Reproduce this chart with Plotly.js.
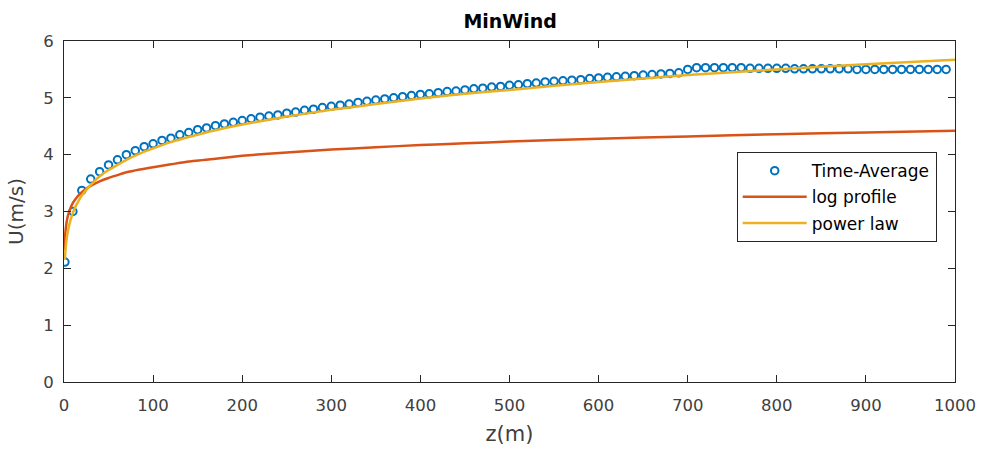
<!DOCTYPE html>
<html>
<head>
<meta charset="utf-8">
<script src="https://cdn.plot.ly/plotly-3.0.1.min.js"></script>
<style>html,body{margin:0;padding:0;background:#fff;}#chart{width:982px;height:451px;}</style>
</head>
<body>
<div id="chart"></div>
<script>
var zMeas = [1,10,20,30,40,50,60,70,80,90,
  100,110,120,130,140,150,160,170,180,190,
  200,210,220,230,240,250,260,270,280,290,
  300,310,320,330,340,350,360,370,380,390,
  400,410,420,430,440,450,460,470,480,490,
  500,510,520,530,540,550,560,570,580,590,
  600,610,620,630,640,650,660,670,680,690,
  700,710,720,730,740,750,760,770,780,790,
  800,810,820,830,840,850,860,870,880,890,
  900,910,920,930,940,950,960,970,980,990];
var uMeas = [2.11,3.00,3.37,3.57,3.70,3.82,3.91,4.00,4.07,4.14,
  4.19,4.25,4.29,4.35,4.39,4.44,4.47,4.51,4.54,4.57,
  4.60,4.63,4.66,4.68,4.70,4.73,4.75,4.78,4.80,4.83,
  4.85,4.87,4.89,4.92,4.94,4.96,4.98,5.00,5.02,5.04,
  5.06,5.07,5.09,5.11,5.12,5.14,5.16,5.17,5.19,5.20,
  5.22,5.23,5.25,5.26,5.28,5.29,5.30,5.31,5.32,5.34,
  5.35,5.36,5.37,5.38,5.39,5.40,5.41,5.42,5.43,5.44,
  5.50,5.53,5.53,5.53,5.53,5.53,5.53,5.52,5.52,5.52,
  5.52,5.52,5.51,5.51,5.51,5.51,5.51,5.51,5.51,5.50,
  5.50,5.50,5.50,5.50,5.50,5.50,5.50,5.50,5.50,5.50];

// Log profile curve
var zLog = [0.5,1,1.5,2,3,4,5,7,10,13,16,20,25,30,40,50,60,70,85,100,120,140,170,200,250,300,350,400,450,500,600,700,800,900,1000];
var uLog = [2.32,2.51,2.62,2.70,2.82,2.90,2.96,3.05,3.15,3.22,3.28,3.34,3.40,3.45,3.53,3.59,3.64,3.69,3.74,3.78,3.83,3.88,3.93,3.98,4.04,4.09,4.13,4.17,4.20,4.23,4.28,4.32,4.36,4.39,4.42];

// Power law curve
var zPow = [1,1.5,2,3,4,5,7,10,13,16,20,25,30,40,50,60,70,85,100,120,140,170,200,250,300,350,400,450,500,600,700,800,900,1000];
var uPow = [2.16,2.29,2.38,2.52,2.62,2.70,2.83,2.98,3.09,3.18,3.28,3.38,3.47,3.62,3.73,3.82,3.91,4.02,4.11,4.22,4.31,4.43,4.53,4.67,4.79,4.89,4.99,5.07,5.14,5.28,5.40,5.50,5.59,5.67];

var xTicks = [0,100,200,300,400,500,600,700,800,900,1000];
var yTicks = [0,1,2,3,4,5,6];

var FONT = 'DejaVu Sans, Verdana, sans-serif';
var AX = '#262626';
var TXT = '#404040';

var traces = [
  {x: zMeas, y: uMeas, type: 'scatter', mode: 'markers', name: 'Time-Average', legendgroup: 'a',
   marker: {symbol: 'circle-open', size: 7.5, color: '#0072BD', line: {width: 2, color: '#0072BD'}}},
  {x: zLog, y: uLog, type: 'scatter', mode: 'lines', name: 'log profile', legendgroup: 'b',
   line: {color: '#D95319', width: 2.5, shape: 'spline', smoothing: 0.5}},
  {x: zPow, y: uPow, type: 'scatter', mode: 'lines', name: 'power law', legendgroup: 'c',
   line: {color: '#EDB120', width: 2.5, shape: 'spline', smoothing: 0.5}}
];

var layout = {
  width: 982, height: 451,
  margin: {l: 64, r: 27, t: 41, b: 69, pad: 0},
  paper_bgcolor: '#fff', plot_bgcolor: '#fff',
  font: {family: FONT, size: 16, color: TXT},
  title: {text: '<b>MinWind</b>', x: 0.5195, xanchor: 'center', y: 0.953, yanchor: 'middle',
          font: {family: FONT, size: 19, color: '#000'}},
  showlegend: true,
  legend: {x: 0.755, xanchor: 'left', y: 0.674, yanchor: 'top',
           bordercolor: '#262626', borderwidth: 1, bgcolor: '#fff',
           font: {family: FONT, size: 17, color: '#000'},
           traceorder: 'grouped', tracegroupgap: 1, itemwidth: 64},
  xaxis: {range: [0, 1000], tickvals: xTicks, ticktext: xTicks.map(String),
          ticks: 'inside', ticklen: 7, tickcolor: AX, tickwidth: 1,
          showline: true, linecolor: AX, linewidth: 1, mirror: 'ticks',
          showgrid: false, zeroline: false, ticklabelstandoff: 8,
          tickfont: {family: FONT, size: 16.5, color: TXT},
          title: {text: 'z(m)', font: {family: FONT, size: 21, color: TXT}, standoff: 12}},
  yaxis: {range: [0, 6], tickvals: yTicks, ticktext: yTicks.map(String),
          ticks: 'inside', ticklen: 7, tickcolor: AX, tickwidth: 1,
          showline: true, linecolor: AX, linewidth: 1, mirror: 'ticks',
          showgrid: false, zeroline: false, ticklabelstandoff: 6,
          tickfont: {family: FONT, size: 16.5, color: TXT},
          title: {text: 'U(m/s)', font: {family: FONT, size: 20, color: TXT}, standoff: 14}}
};

Plotly.newPlot('chart', traces, layout, {displayModeBar: false, staticPlot: true});
</script>
</body>
</html>
